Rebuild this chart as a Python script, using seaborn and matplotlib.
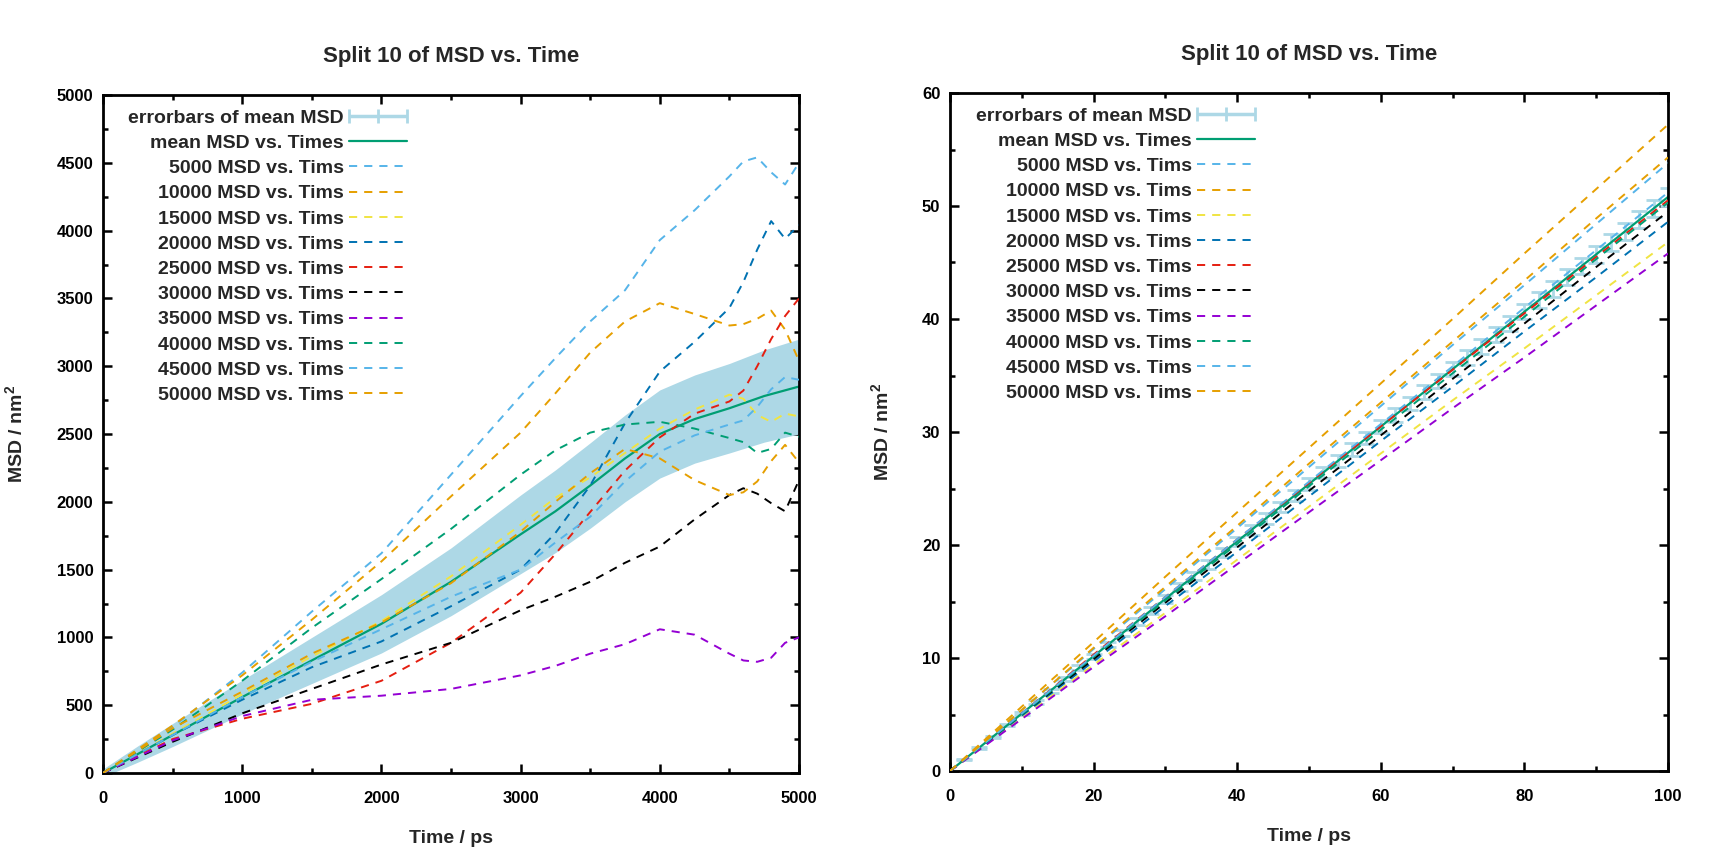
#Split 10 of MSD vs. Time - two panels

#Importing libraries
import numpy as np
import matplotlib
matplotlib.use("Agg")
import matplotlib.pyplot as plt
import seaborn as sns
from matplotlib.ticker import MultipleLocator
from matplotlib.container import ErrorbarContainer
from matplotlib.lines import Line2D
from matplotlib.collections import LineCollection
from matplotlib.legend_handler import HandlerErrorbar

#Data - left panel (0-5000 ps)
t_left = [0, 500, 1000, 1500, 2000, 2500, 3000, 3250, 3500, 3750, 4000, 4250, 4500, 4600, 4700, 4800, 4900, 5000]
msd_5000 = [0, 340, 740, 1190, 1620, 2200, 2780, 3060, 3330, 3560, 3930, 4150, 4400, 4510, 4540, 4430, 4340, 4500]
msd_10000 = [0, 350, 720, 1130, 1560, 2040, 2510, 2800, 3100, 3330, 3465, 3385, 3300, 3310, 3350, 3410, 3270, 3040]
msd_15000 = [0, 290, 580, 860, 1120, 1450, 1830, 2030, 2180, 2360, 2540, 2680, 2790, 2760, 2640, 2590, 2650, 2630]
msd_20000 = [0, 280, 540, 780, 970, 1230, 1500, 1770, 2120, 2580, 2960, 3180, 3430, 3620, 3860, 4070, 3940, 4040]
msd_25000 = [0, 250, 400, 510, 680, 960, 1330, 1615, 1925, 2230, 2475, 2650, 2740, 2820, 3000, 3200, 3370, 3500]
msd_30000 = [0, 230, 440, 620, 800, 960, 1200, 1300, 1410, 1550, 1670, 1870, 2050, 2100, 2060, 1990, 1930, 2160]
msd_35000 = [0, 240, 420, 540, 570, 620, 720, 790, 880, 950, 1060, 1020, 880, 830, 820, 850, 960, 1000]
msd_40000 = [0, 320, 680, 1070, 1430, 1800, 2200, 2380, 2510, 2570, 2590, 2540, 2470, 2440, 2360, 2390, 2510, 2480]
msd_45000 = [0, 280, 560, 820, 1060, 1300, 1500, 1700, 1890, 2150, 2370, 2490, 2570, 2600, 2700, 2830, 2920, 2900]
msd_50000 = [0, 330, 600, 880, 1110, 1400, 1780, 2000, 2210, 2390, 2320, 2160, 2050, 2070, 2150, 2300, 2420, 2290]

t_band = [0, 250, 500, 750, 1000, 1500, 2000, 2500, 3000, 3250, 3500, 3750, 4000, 4250, 4500, 4750, 5000]
mean_left = [0, 140, 280, 420, 560, 830, 1100, 1410, 1760, 1930, 2120, 2320, 2500, 2610, 2690, 2780, 2850]
err_left = [30, 60, 85, 105, 125, 170, 215, 250, 290, 305, 315, 320, 325, 325, 330, 340, 350]

#Data - right panel (0-100 ps)
t_right = [0, 10, 20, 30, 40, 50, 60, 70, 80, 90, 100]
r_5000 = [0, 5.4, 10.8, 16.1, 21.5, 26.9, 32.3, 37.7, 43.0, 48.4, 53.8]
r_10000 = [0, 5.7, 11.4, 17.2, 22.9, 28.6, 34.3, 40.0, 45.8, 51.5, 57.2]
r_15000 = [0, 4.7, 9.4, 14.0, 18.7, 23.4, 28.1, 32.8, 37.4, 42.1, 46.8]
r_20000 = [0, 4.9, 9.7, 14.6, 19.4, 24.3, 29.2, 34.0, 38.9, 43.7, 48.6]
r_25000 = [0, 5.1, 10.3, 15.4, 20.5, 25.5, 30.5, 35.5, 40.5, 45.5, 50.5]
r_30000 = [0, 5.0, 9.9, 14.9, 19.8, 24.8, 29.7, 34.7, 39.6, 44.6, 49.5]
r_35000 = [0, 4.6, 9.2, 13.7, 18.3, 22.9, 27.5, 32.1, 36.6, 41.2, 45.8]
r_40000 = [0, 5.0, 10.1, 15.1, 20.1, 25.2, 30.2, 35.2, 40.2, 45.3, 50.3]
r_45000 = [0, 5.1, 10.2, 15.4, 20.5, 25.6, 30.7, 35.8, 41.0, 46.1, 51.2]
r_50000 = [0, 5.4, 10.9, 16.3, 21.7, 27.2, 32.6, 38.0, 43.4, 48.9, 54.3]

t_err = [0, 2, 4, 6, 8, 10, 12, 14, 16, 18, 20, 22, 24, 26, 28, 30, 32, 34, 36, 38, 40,
         42, 44, 46, 48, 50, 52, 54, 56, 58, 60, 62, 64, 66, 68, 70, 72, 74, 76, 78, 80,
         82, 84, 86, 88, 90, 92, 94, 96, 98, 100]
mean_right = [0.00, 1.02, 2.03, 3.05, 4.06, 5.08, 6.10, 7.11, 8.13, 9.14, 10.16,
              11.18, 12.19, 13.21, 14.22, 15.24, 16.26, 17.27, 18.29, 19.30, 20.32,
              21.34, 22.35, 23.37, 24.38, 25.40, 26.42, 27.43, 28.45, 29.46, 30.48,
              31.50, 32.51, 33.53, 34.54, 35.56, 36.58, 37.59, 38.61, 39.62, 40.64,
              41.66, 42.67, 43.69, 44.70, 45.72, 46.74, 47.75, 48.77, 49.78, 50.80]
err_right = [0.02, 0.04, 0.06, 0.09, 0.11, 0.13, 0.15, 0.17, 0.19, 0.21, 0.23,
             0.25, 0.27, 0.29, 0.31, 0.33, 0.35, 0.37, 0.38, 0.40, 0.42,
             0.44, 0.45, 0.47, 0.48, 0.50, 0.51, 0.53, 0.54, 0.55, 0.57,
             0.58, 0.59, 0.60, 0.62, 0.63, 0.64, 0.65, 0.66, 0.67, 0.68,
             0.69, 0.70, 0.71, 0.72, 0.73, 0.74, 0.75, 0.76, 0.77, 0.78]

names = ["5000", "10000", "15000", "20000", "25000", "30000", "35000", "40000", "45000", "50000"]
left_series = [msd_5000, msd_10000, msd_15000, msd_20000, msd_25000,
               msd_30000, msd_35000, msd_40000, msd_45000, msd_50000]
right_series = [r_5000, r_10000, r_15000, r_20000, r_25000,
                r_30000, r_35000, r_40000, r_45000, r_50000]
colors = ["#56b4e9", "#e69f00", "#f0e442", "#0072b2", "#e51e10",
          "#000000", "#9400d3", "#009e73", "#56b4e9", "#e69f00"]
mean_color = "#009e73"
err_color = "#add8e6"
dash = (0, (4.2, 3.6))

#Style
sns.set_style("ticks")
plt.rcParams["font.family"] = ["Liberation Sans", "DejaVu Sans"]
plt.rcParams["font.weight"] = "bold"
plt.rcParams["mathtext.fontset"] = "custom"
plt.rcParams["mathtext.bf"] = "Liberation Sans:bold"
plt.rcParams["mathtext.rm"] = "Liberation Sans:bold"

fig = plt.figure(figsize=(17.11, 8.64), dpi=100)
ax1 = fig.add_axes([103 / 1711, 91 / 864, 696 / 1711, 678 / 864])
ax2 = fig.add_axes([950 / 1711, 93 / 864, 718 / 1711, 678 / 864])

#Legend proxy for the error bars (gnuplot-like horizontal sample)
eb_line = Line2D([], [], color=err_color, marker="|", markersize=10, mew=2, ls="none")
eb_cap = Line2D([], [], color=err_color, marker="|", markersize=10, mew=2, ls="none")
eb_bar = LineCollection([], colors=err_color, linewidths=2.5)
eb_proxy = ErrorbarContainer((eb_line, (eb_cap,), (eb_bar,)), has_xerr=True, has_yerr=False)

labels = ["errorbars of mean MSD", "mean MSD vs. Times"] + [n + " MSD vs. Tims" for n in names]


def style_axes(ax, xmax, ymax, xmaj, xmin, ymaj, ymin):
    ax.set_xlim(0, xmax)
    ax.set_ylim(0, ymax)
    ax.xaxis.set_major_locator(MultipleLocator(xmaj))
    ax.xaxis.set_minor_locator(MultipleLocator(xmin))
    ax.yaxis.set_major_locator(MultipleLocator(ymaj))
    ax.yaxis.set_minor_locator(MultipleLocator(ymin))
    ax.tick_params(which="both", direction="in", top=True, right=True,
                   width=1.8, colors="black", labelsize=12)
    ax.tick_params(which="major", length=6.5)
    ax.tick_params(which="minor", length=3.3)
    ax.tick_params(axis="x", pad=13)
    ax.tick_params(axis="y", pad=7)
    for s in ax.spines.values():
        s.set_linewidth(2)
        s.set_color("black")
    ax.set_title("Split 10 of MSD vs. Time", fontsize=16, fontweight="bold", pad=24)
    ax.set_xlabel("Time / ps", fontsize=14, fontweight="bold", labelpad=17)
    ax.set_ylabel("MSD / nm$^\\mathbf{2}$", fontsize=14, fontweight="bold", labelpad=21)


#Left panel
lower = np.array(mean_left) - np.array(err_left)
upper = np.array(mean_left) + np.array(err_left)
ax1.fill_between(t_band, lower, upper, color=err_color, lw=0, zorder=1)
sns.lineplot(x=t_band, y=mean_left, ax=ax1, color=mean_color, lw=1.6, zorder=2)
handles1 = [eb_proxy, ax1.lines[-1]]
for vals, c in zip(left_series, colors):
    sns.lineplot(x=t_left, y=vals, ax=ax1, color=c, lw=1.4, linestyle=dash, zorder=3)
    handles1.append(ax1.lines[-1])
style_axes(ax1, 5000, 5000, 1000, 500, 500, 250)

#Right panel
ax2.errorbar(t_err, mean_right, yerr=err_right, fmt="none", ecolor=err_color,
             elinewidth=2, capsize=5.5, capthick=2, zorder=1)
sns.lineplot(x=t_err, y=mean_right, ax=ax2, color=mean_color, lw=1.6, zorder=2)
handles2 = [eb_proxy, ax2.lines[-1]]
for vals, c in zip(right_series, colors):
    sns.lineplot(x=t_right, y=vals, ax=ax2, color=c, lw=1.4, linestyle=dash, zorder=3)
    handles2.append(ax2.lines[-1])
style_axes(ax2, 100, 60, 20, 10, 10, 5)

leg_kw = dict(loc="upper right", frameon=False, fontsize=14, markerfirst=False,
              handlelength=3.0, handletextpad=0.25, labelspacing=0.39,
              borderpad=0, borderaxespad=0,
              handler_map={ErrorbarContainer: HandlerErrorbar(xerr_size=1.5)})
ax1.legend(handles1, labels, bbox_to_anchor=(0.437, 0.979), **leg_kw)
ax2.legend(handles2, labels, bbox_to_anchor=(0.425, 0.979), **leg_kw)

plt.savefig("out.png", dpi=100)
